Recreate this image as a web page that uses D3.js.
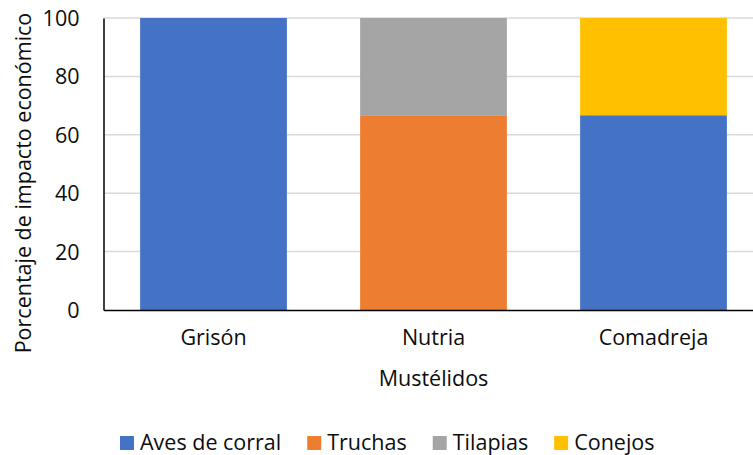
<!DOCTYPE html>
<html>
<head>
<meta charset="utf-8">
<script src="https://cdn.jsdelivr.net/npm/d3@7"></script>
<style>
  body { margin: 0; background: #fff; overflow: hidden; }
  text { font-family: "Open Sans", Lato, sans-serif; fill: #0d0d0d; }
</style>
</head>
<body>
<div id="chart"></div>
<script>
// categories (x axis)
var categories = ["Grisón", "Nutria", "Comadreja"];
// series names, in stacking order
var seriesNames = ["Aves de corral", "Truchas", "Tilapias", "Conejos"];
// percentage values per series, one per category
var avesValues = [100, 0, 66.7];
var truchasValues = [0, 66.7, 0];
var tilapiasValues = [0, 33.3, 0];
var conejosValues = [0, 0, 33.3];
var yTicks = [0, 20, 40, 60, 80, 100];

var colors = ["#4472C4", "#ED7D31", "#A5A5A5", "#FFC000"];
var fontSize = "21.5px";

var width = 753, height = 455;
var margin = {top: 18, right: -10.5, bottom: 145, left: 103.5};
var plotW = width - margin.left - margin.right,
    plotH = height - margin.top - margin.bottom;

// build rows for the stack layout
var allValues = [avesValues, truchasValues, tilapiasValues, conejosValues];
var rows = categories.map(function(c, i) {
  var r = {cat: c};
  seriesNames.forEach(function(s, j) { r[s] = allValues[j][i]; });
  return r;
});
var stacked = d3.stack().keys(seriesNames)(rows);

var svg = d3.select("#chart").append("svg")
    .attr("width", width)
    .attr("height", height);

var g = svg.append("g")
    .attr("transform", "translate(" + margin.left + "," + margin.top + ")");

var xScale = d3.scaleBand()
    .domain(categories)
    .range([0, plotW])
    .paddingInner(0.333)
    .paddingOuter(0.1665);

var yScale = d3.scaleLinear()
    .domain([0, 100])
    .range([plotH, 0]);

// gridlines
g.selectAll(".grid")
  .data(yTicks.filter(function(d) { return d > 0; }))
  .enter().append("line")
    .attr("class", "grid")
    .attr("x1", 0)
    .attr("x2", plotW)
    .attr("y1", function(d) { return yScale(d); })
    .attr("y2", function(d) { return yScale(d); })
    .style("stroke", "#d9d9d9")
    .style("stroke-width", 1.5);

// bars
g.selectAll(".series")
  .data(stacked)
  .enter().append("g")
    .attr("class", "series")
    .style("fill", function(d, i) { return colors[i]; })
  .selectAll("rect")
  .data(function(d) { return d; })
  .enter().append("rect")
    .attr("x", function(d) { return xScale(d.data.cat); })
    .attr("y", function(d) { return yScale(d[1]); })
    .attr("height", function(d) { return yScale(d[0]) - yScale(d[1]); })
    .attr("width", xScale.bandwidth());

// y axis
var yAxis = g.append("g")
    .attr("class", "y axis")
    .call(d3.axisLeft(yScale).tickValues(yTicks).tickSize(0).tickPadding(24));
yAxis.select(".domain").style("stroke", "#000").style("stroke-width", 1.5);
yAxis.selectAll("text").style("font-size", fontSize).attr("dy", "0.35em");

// x axis
var xAxis = g.append("g")
    .attr("class", "x axis")
    .attr("transform", "translate(0," + plotH + ")")
    .call(d3.axisBottom(xScale).tickSize(0).tickPadding(20));
xAxis.select(".domain").style("stroke", "#000").style("stroke-width", 1.5);
xAxis.selectAll("text").style("font-size", fontSize);

// axis titles
svg.append("text")
    .attr("x", margin.left + plotW / 2)
    .attr("y", 386)
    .style("font-size", fontSize)
    .style("text-anchor", "middle")
    .text("Mustélidos");

svg.append("text")
    .attr("transform", "translate(31,183) rotate(-90)")
    .style("font-size", fontSize)
    .style("text-anchor", "middle")
    .text("Porcentaje de impacto económico");

// legend
var legend = svg.append("g").attr("class", "legend");
var lx = 120;
seriesNames.forEach(function(s, i) {
  var item = legend.append("g").attr("transform", "translate(" + lx + ",436)");
  item.append("rect")
      .attr("width", 14)
      .attr("height", 14)
      .style("fill", colors[i]);
  var t = item.append("text")
      .attr("x", 20)
      .attr("y", 13.5)
      .style("font-size", fontSize)
      .text(s);
  lx += 20 + t.node().getComputedTextLength() + 26;
});
</script>
</body>
</html>
